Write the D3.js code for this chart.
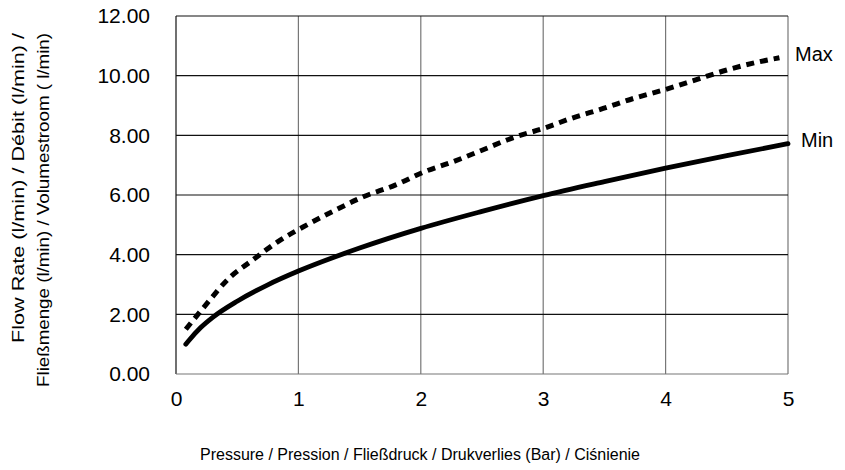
<!DOCTYPE html>
<html><head><meta charset="utf-8">
<script src="https://cdn.jsdelivr.net/npm/d3@7"></script>
<style>body{margin:0;background:#fff}svg{display:block}text{font-family:"Liberation Sans",Arial,sans-serif;fill:#000}</style>
</head><body>
<svg id="c" width="845" height="470"></svg>
<script>
const xTicks = [0, 1, 2, 3, 4, 5];
const yTicks = [0, 2, 4, 6, 8, 10, 12];
const minP = [0.08, 0.1, 0.2, 0.3, 0.5, 0.75, 1, 1.5, 2, 2.5, 3, 3.5, 4, 4.5, 5];
const minF = [1.0, 1.1, 1.55, 1.9, 2.44, 2.99, 3.45, 4.22, 4.88, 5.45, 5.98, 6.45, 6.9, 7.32, 7.72];
const maxP = [0.08, 0.25, 0.43, 0.62, 0.83, 1.07, 1.3, 1.53, 1.79, 2.03, 2.26, 2.5, 2.74, 3.0, 3.23, 3.49, 3.74, 4.0, 4.24, 4.5, 4.77, 4.93];
const maxF = [1.5, 2.35, 3.2, 3.8, 4.43, 5.0, 5.49, 5.94, 6.33, 6.78, 7.11, 7.5, 7.9, 8.23, 8.57, 8.9, 9.24, 9.54, 9.85, 10.19, 10.47, 10.6];
const seriesLabels = ["Max", "Min"];
const xTitle = "Pressure / Pression / Fließdruck / Drukverlies (Bar) / Ciśnienie";
const yTitle = ["Flow Rate (l/min) / Débit (l/min) /", "Fließmenge (l/min) / Volumestroom ( l/min)"];

const svg = d3.select("#c");
const L = 176, R = 788, T = 16, B = 374;
const x = d3.scaleLinear().domain([0, 5]).range([L, R]);
const y = d3.scaleLinear().domain([0, 12]).range([B, T]);

// grid
svg.append("g").selectAll("line").data(xTicks).join("line")
  .attr("x1", d => x(d)).attr("x2", d => x(d)).attr("y1", T).attr("y2", B)
  .attr("stroke", d => d === 0 ? "#111" : "#777").attr("stroke-width", 1.2);
svg.append("g").selectAll("line").data(yTicks).join("line")
  .attr("x1", L).attr("x2", R).attr("y1", d => y(d)).attr("y2", d => y(d))
  .attr("stroke", d => d === 0 ? "#777" : "#111").attr("stroke-width", 1.2);

// axes (labels only)
const xa = svg.append("g").attr("transform", `translate(0,${B})`)
  .call(d3.axisBottom(x).tickValues(xTicks).tickSize(0).tickPadding(17).tickFormat(d3.format("d")));
const ya = svg.append("g").attr("transform", `translate(${L},0)`)
  .call(d3.axisLeft(y).tickValues(yTicks).tickSize(0).tickPadding(26).tickFormat(d3.format(".2f")));
[xa, ya].forEach(a => { a.select(".domain").remove(); a.selectAll("text").style("font-size", "21px").style("font-family", "Liberation Sans, Arial, sans-serif").attr("fill", "#111"); });

const line = d3.line().x(d => x(d[0])).y(d => y(d[1])).curve(d3.curveMonotoneX);
svg.append("path").datum(minP.map((p, i) => [p, minF[i]])).attr("d", line)
  .attr("fill", "none").attr("stroke", "#000").attr("stroke-width", 4.8).attr("stroke-linecap", "round");
svg.append("path").datum(maxP.map((p, i) => [p, maxF[i]])).attr("d", line)
  .attr("fill", "none").attr("stroke", "#000").attr("stroke-width", 5).attr("stroke-dasharray", "8,6");

svg.append("text").attr("x", 795).attr("y", y(maxF[maxF.length - 1]) + 3).style("font-size", "20px").attr("fill", "#222").text(seriesLabels[0]);
svg.append("text").attr("x", 801).attr("y", y(minF[minF.length - 1]) + 3).style("font-size", "20px").attr("fill", "#222").text(seriesLabels[1]);

svg.append("text").attr("x", 420).attr("y", 460).attr("text-anchor", "middle").style("font-size", "16px").attr("fill", "#222")
  .attr("textLength", 440).attr("lengthAdjust", "spacingAndGlyphs").text(xTitle);
const yLens = [310, 354];
yTitle.forEach((t, i) => {
  svg.append("text").attr("transform", `translate(${24 + i * 25},33) rotate(-90)`)
    .attr("text-anchor", "end").style("font-size", "16px").attr("fill", "#222")
    .attr("textLength", yLens[i]).attr("lengthAdjust", "spacingAndGlyphs").text(t);
});
</script>
</body></html>
